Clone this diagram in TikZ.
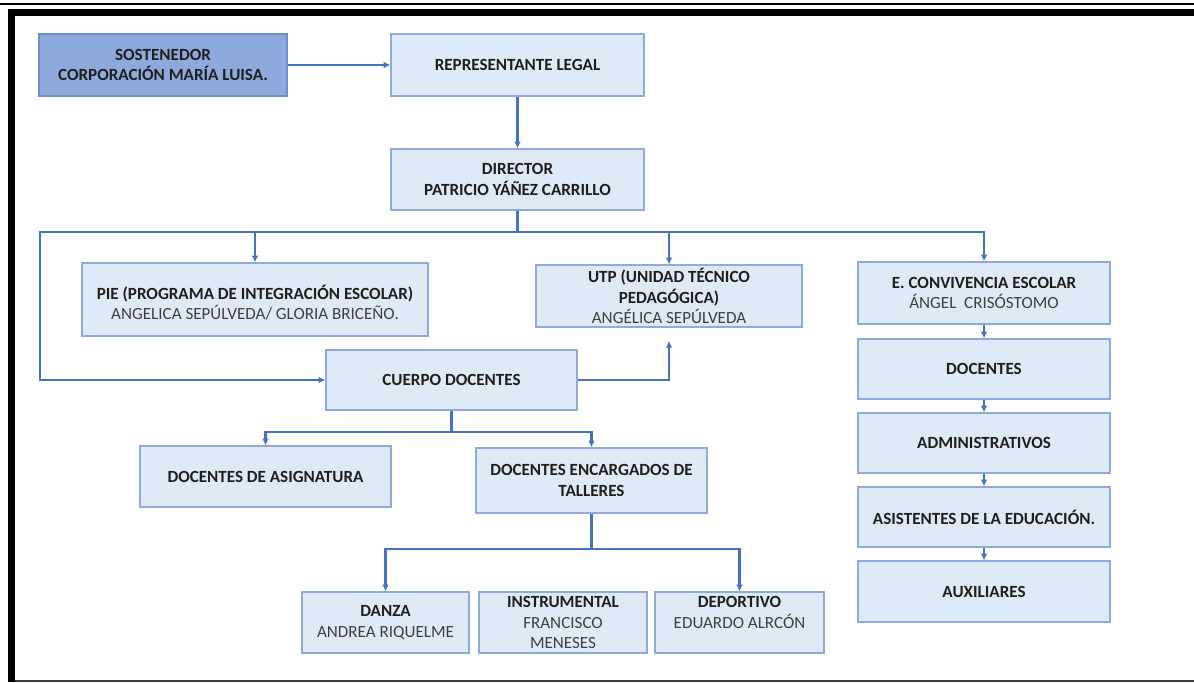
\documentclass[tikz,border=0pt]{standalone}
\usepackage{fontspec}
\setmainfont{Carlito}
\usetikzlibrary{arrows.meta}
\definecolor{boxfill}{HTML}{DEEBF7}
\definecolor{boxline}{HTML}{8FAADC}
\definecolor{darkfill}{HTML}{8EA9DB}
\definecolor{darkline}{HTML}{6F8FC6}
\definecolor{conn}{HTML}{4472C4}
\definecolor{txtb}{HTML}{1F1F1F}
\definecolor{txtr}{HTML}{404040}
\newcommand{\rg}[1]{{\mdseries\color{txtr}#1}}
\begin{document}
\begin{tikzpicture}[x=0.75pt,y=-0.75pt,
  box/.style={draw=boxline,fill=boxfill,line width=1pt,inner sep=0pt,align=center,
    font=\fontsize{12.8}{15.4}\selectfont\bfseries,text=txtb},
  darkbox/.style={box,draw=darkline,fill=darkfill},
  arr/.style={draw=conn,line width=1.7pt,-{Latex[length=5pt,width=5pt]}},
  ln/.style={draw=conn,line width=1.7pt}]
\useasboundingbox (0,0) rectangle (1194,682);
% frame
\draw[line width=1.5pt] (0,4) -- (1194,4);
\fill[black] (8,9) rectangle (1194,16);
\fill[black] (8,9) rectangle (15,682);
\draw[black!75,line width=1.5pt] (15,681) -- (1194,681);
% nodes
\node[darkbox,minimum width=186pt,minimum height=46.5pt] (sost) at (163,65) {SOSTENEDOR\\CORPORACIÓN MARÍA LUISA.};
\node[box,minimum width=189.75pt,minimum height=46.5pt] (rep) at (517.5,65) {REPRESENTANTE LEGAL};
\node[box,minimum width=189.75pt,minimum height=45.75pt] (dir) at (517.5,179.5) {DIRECTOR\\PATRICIO YÁÑEZ CARRILLO};
\node[box,minimum width=259.5pt,minimum height=54.75pt] (pie) at (255,299.5) {\mbox{}\\PIE (PROGRAMA DE INTEGRACIÓN ESCOLAR)\\\rg{ANGELICA SEPÚLVEDA/ GLORIA BRICEÑO.}};
\node[box,minimum width=199.5pt,minimum height=46.5pt] (utp) at (669,296) {UTP (UNIDAD TÉCNICO\\PEDAGÓGICA)\\\rg{ANGÉLICA SEPÚLVEDA}};
\node[box,minimum width=189pt,minimum height=46.5pt] (conv) at (984,293) {E. CONVIVENCIA ESCOLAR\\\rg{ÁNGEL\ \ CRISÓSTOMO}};
\node[box,minimum width=189pt,minimum height=45pt] (doc) at (984,369) {DOCENTES};
\node[box,minimum width=189pt,minimum height=45pt] (adm) at (984,443) {ADMINISTRATIVOS};
\node[box,minimum width=189pt,minimum height=45pt] (asi) at (984,517) {ASISTENTES DE LA EDUCACIÓN.};
\node[box,minimum width=189pt,minimum height=45.75pt] (aux) at (984,591.5) {AUXILIARES};
\node[box,minimum width=188.25pt,minimum height=45pt] (cuerpo) at (451.5,380) {CUERPO DOCENTES};
\node[box,minimum width=188.25pt,minimum height=45.75pt] (asig) at (265.5,476.5) {DOCENTES DE ASIGNATURA};
\node[box,minimum width=173.25pt,minimum height=48.75pt] (tall) at (591.5,480.5) {DOCENTES ENCARGADOS DE\\TALLERES};
\node[box,minimum width=125.25pt,minimum height=45.75pt] (danza) at (385.5,622.5) {DANZA\\\rg{ANDREA RIQUELME}};
\node[box,minimum width=126pt,minimum height=45.75pt] (instr) at (563,622.5) {INSTRUMENTAL\\\rg{FRANCISCO}\\\rg{MENESES}};
\node[box,minimum width=126.75pt,minimum height=45.75pt] (depo) at (739.5,622.5) {DEPORTIVO\\\rg{EDUARDO ALRCÓN}\\\mbox{}};
% helper coordinates
\coordinate (barL) at (40,232);
\coordinate (utpin) at (669,341);
% connectors
\draw[arr] (sost.east) -- (rep.west);
\draw[arr] (rep.south) -- (dir.north);
\draw[arr] (dir.south) |- (barL) |- (cuerpo.west);
\draw[arr] (dir.south |- barL) -| (conv.north);
\draw[arr] (pie.north |- barL) -- (pie.north);
\draw[arr] (utp.north |- barL) -- (utp.north);
\draw[arr] (cuerpo.east) -| (utpin);
\draw[arr] (conv.south) -- (doc.north);
\draw[arr] (doc.south) -- (adm.north);
\draw[arr] (adm.south) -- (asi.north);
\draw[arr] (asi.south) -- (aux.north);
\draw[arr] (cuerpo.south) -- ++(0,21) -| (asig.north);
\draw[arr] (cuerpo.south) -- ++(0,21) -| (tall.north);
\draw[arr] (tall.south) -- ++(0,35) -| (danza.north);
\draw[arr] (tall.south) -- ++(0,35) -| (depo.north);
\end{tikzpicture}
\end{document}
